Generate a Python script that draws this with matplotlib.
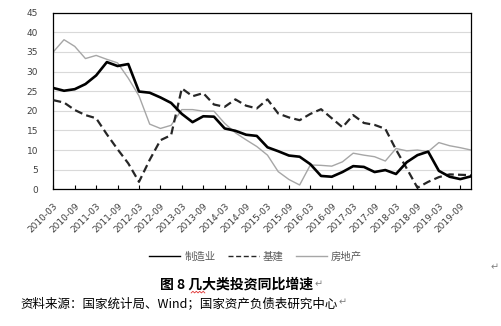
import numpy as np
import matplotlib
matplotlib.use("Agg")
import matplotlib.pyplot as plt

# quarterly, 2010-03 .. 2019-12
quarters = [f"{y}-{m:02d}" for y in range(2010, 2020) for m in (3, 6, 9, 12)]

manufacturing = [25.8, 25.1, 25.5, 26.8, 29.0, 32.4, 31.4, 31.9,
                 24.9, 24.6, 23.4, 22.0, 19.2, 17.1, 18.6, 18.5,
                 15.5, 14.9, 13.9, 13.6, 10.7, 9.7, 8.6, 8.3,
                 6.4, 3.4, 3.2, 4.4, 5.9, 5.7, 4.4, 4.9,
                 3.9, 6.9, 8.7, 9.6, 4.7, 3.2, 2.6, 3.3]
infrastructure = [22.7, 22.1, 20.2, 18.9, 18.1, 14.0, 10.2, 6.6,
                  1.9, 7.5, 12.5, 13.8, 25.7, 23.7, 24.5, 21.6,
                  21.0, 22.9, 21.3, 20.6, 22.9, 19.3, 18.3, 17.6,
                  19.2, 20.4, 18.1, 15.8, 18.9, 16.9, 16.4, 15.4,
                  10.1, 5.3, 0.4, 1.9, 3.1, 3.8, 3.7, 3.6]
real_estate = [35.0, 38.1, 36.4, 33.3, 34.1, 33.1, 32.2, 28.3,
               23.8, 16.6, 15.5, 16.3, 20.3, 20.3, 19.9, 19.9,
               16.8, 14.4, 12.6, 10.9, 8.7, 4.5, 2.5, 1.1,
               6.2, 6.1, 5.9, 7.0, 9.2, 8.7, 8.3, 7.2,
               10.4, 9.8, 10.0, 9.6, 11.9, 11.1, 10.6, 10.0]

series_names = ["制造业", "基建", "房地产"]
tick_labels = quarters[::2]

cjk = ["Noto Sans CJK SC", "DejaVu Sans"]

fig = plt.figure(figsize=(5.01, 3.26), dpi=100)
ax = fig.add_axes([0.1064, 0.4193, 0.8337, 0.5420])

x = np.arange(len(quarters))
ax.plot(x, manufacturing, color="black", lw=1.9, label=series_names[0],
        solid_joinstyle="round", zorder=4)
ax.plot(x, infrastructure, color="#262626", lw=1.6, dashes=(3.6, 1.9),
        label=series_names[1], zorder=3)
ax.plot(x, real_estate, color="#a6a6a6", lw=1.0, label=series_names[2], zorder=2)

ax.set_xlim(0, len(quarters) - 1)
ax.set_ylim(0, 45)
ax.set_yticks(np.arange(0, 46, 5))
ax.yaxis.grid(True, color="#d9d9d9", lw=0.8)
ax.set_axisbelow(True)

ax.set_xticks(x[::2])
ax.set_xticklabels(tick_labels, rotation=45, ha="right", va="top",
                   rotation_mode="anchor", fontsize=6.5, color="#404040")
ax.tick_params(axis="x", direction="in", length=3, width=0.8, pad=9)
ax.tick_params(axis="y", length=0, pad=11, labelsize=6.5, labelcolor="#404040")

for s in ax.spines.values():
    s.set_linewidth(0.9)
    s.set_color("black")

leg = fig.legend(loc="center", bbox_to_anchor=(0.51, 0.212), ncol=3,
                 frameon=False, prop={"family": cjk, "size": 7.5},
                 handlelength=3.0, handletextpad=0.35, columnspacing=1.2,
                 borderaxespad=0)
for t in leg.get_texts():
    t.set_color("#595959")
for h in leg.get_lines():
    h.set_linewidth(1.0)

caption = fig.text(0.473, 0.126, "图 8 几大类投资同比增速", ha="center",
                   va="center", family=cjk, fontsize=10, fontweight="bold",
                   color="black")
source = fig.text(0.04, 0.0695, "资料来源：国家统计局、Wind；国家资产负债表研究中心",
                  ha="left", va="center", family=cjk, fontsize=9, color="black")

# paragraph marks right after each line of text
fig.canvas.draw()
renderer = fig.canvas.get_renderer()
inv = fig.transFigure.inverted()
for t in (caption, source):
    bb = t.get_window_extent(renderer)
    x1, _ = inv.transform((bb.x1 + 1, 0))
    fig.text(x1, t.get_position()[1] + 0.002, "↵", ha="left", va="center",
             family=cjk, fontsize=7, color="#808080")
fig.text(0.988, 0.181, "↵", ha="center", va="center", family=cjk,
         fontsize=7, color="#808080")

# spell-check squiggle under 几
bb = caption.get_window_extent(renderer)
char_w = bb.width / 11.2
sx0 = bb.x0 + char_w * 2.25
sx = np.linspace(sx0, sx0 + char_w, 9)
sy = bb.y0 - 1 + np.tile([0, 1.6], 5)[:9]
pts = inv.transform(np.column_stack([sx, sy]))
fig.add_artist(plt.Line2D(pts[:, 0], pts[:, 1], color="#e03030", lw=0.6,
                          transform=fig.transFigure))

fig.savefig("out.png", dpi=100)
